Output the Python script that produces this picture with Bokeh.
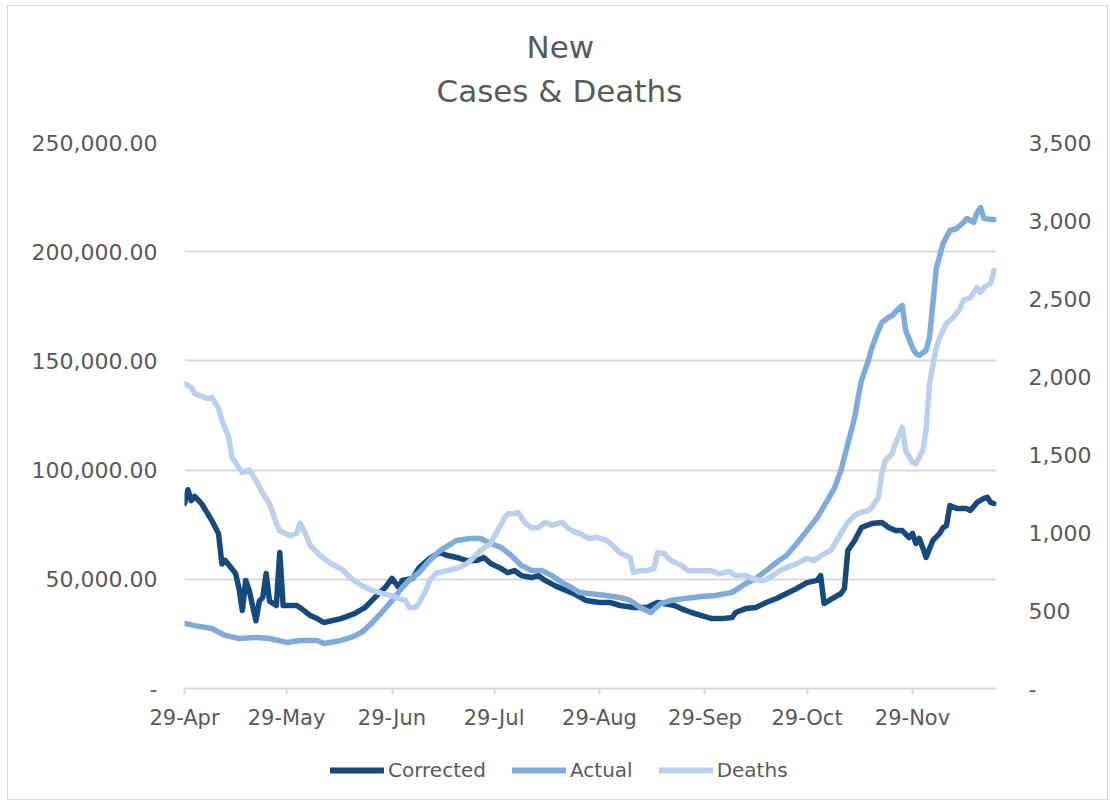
import pandas as pd
from bokeh.plotting import figure
from bokeh.layouts import column
from bokeh.models import (Range1d, LinearAxis, FixedTicker, DatetimeTickFormatter,
                          NumeralTickFormatter, Legend, LegendItem, Title)
from bokeh.embed import file_html
from bokeh.resources import INLINE

START = "2020-04-29"
END_DAY = 238.7

# ---- data (day offsets from 29-Apr) ----
corrected_day = [0, 1, 2, 3, 5, 8, 10, 11, 12, 15, 16, 17, 18, 19, 21, 22, 23, 24, 25, 27, 28, 29,
                 33, 34, 37, 39, 41, 46, 50, 53, 56, 59, 61, 63, 64, 67, 69, 72, 75, 77, 80, 83, 86,
                 88, 90, 93, 95, 97, 99, 102, 104, 106, 109, 112, 115, 118, 122, 125, 128, 132, 136,
                 139, 141, 144, 146, 149, 152, 155, 158, 161, 162, 165, 168, 171, 174, 177, 180, 183,
                 186, 187, 188, 190, 193, 194, 195, 197, 199, 202, 205, 207, 209, 211, 213, 214, 215,
                 216, 217, 218, 220, 222, 223, 224, 225, 227, 230, 231, 233, 235, 236, 237, 238]
corrected = [84700, 91000, 86000, 88000, 84700, 77000, 71000, 57000, 58600, 52700, 46000, 35700,
             49500, 45000, 31000, 40000, 41700, 52700, 40000, 38000, 62300, 38000, 38000, 37000,
             33400, 32000, 30200, 32000, 34300, 37000, 41700, 46200, 50400, 46200, 49500, 50400,
             55400, 59500, 62300, 61000, 60000, 58600, 58600, 60000, 57200, 55000, 53000, 54000,
             51700, 50800, 51700, 49500, 47000, 45000, 43000, 40300, 39400, 39400, 38000, 37100,
             37100, 39400, 38900, 38000, 36600, 34800, 33400, 32000, 32000, 32500, 34800, 36600,
             37100, 39400, 41200, 43500, 45800, 48500, 49500, 51700, 38900, 40800, 43500, 45800,
             63200, 67800, 73700, 75500, 76000, 73700, 72300, 72300, 69100, 71000, 66400, 68700,
             64600, 60000, 67800, 71000, 73700, 74600, 83800, 82400, 82400, 81500, 85200, 87000,
             87500, 85200, 84700]

actual_day = [0, 3, 8, 12, 16, 21, 25, 30, 34, 39, 41, 46, 49, 52, 55, 58, 61, 64, 66, 69, 72, 75,
              80, 84, 87, 90, 93, 96, 99, 102, 105, 108, 111, 114, 116, 119, 124, 128, 131, 134,
              137, 140, 143, 147, 152, 156, 161, 165, 168, 171, 174, 177, 180, 183, 186, 189, 191,
              193, 195, 197, 198, 199, 201, 202, 204, 205, 207, 208, 210, 211, 212, 214, 215, 216,
              218, 219, 220, 221, 223, 225, 227, 229, 230, 232, 233, 234, 235, 237, 238]
actual = [29800, 28800, 27500, 24300, 22900, 23400, 22900, 21100, 22000, 22000, 20600, 22000,
          23400, 25600, 29800, 34800, 40300, 46200, 49500, 53100, 58600, 63000, 67800, 68700,
          68700, 66400, 64600, 61000, 56300, 54000, 54000, 51700, 48500, 46000, 44000, 43500,
          42600, 41700, 40300, 37100, 34800, 38900, 40300, 41200, 42100, 42600, 44000, 48100,
          50400, 54000, 57700, 61000, 66400, 72300, 78300, 86100, 91600, 100000, 112000, 124000,
          133000, 141000, 150000, 155700, 164000, 167600, 170000, 170800, 174000, 175400, 164000,
          156000, 153400, 152500, 154800, 160700, 176300, 192300, 203800, 209700, 210600, 213400,
          215200, 213400, 218000, 220200, 215200, 214800, 214800]

deaths_day = [0, 2, 3, 6, 7, 8, 10, 11, 13, 14, 16, 17, 19, 21, 23, 25, 27, 28, 31, 33, 34, 36,
              37, 40, 43, 46, 49, 52, 55, 58, 61, 63, 65, 66, 68, 69, 71, 72, 74, 77, 80, 83, 85,
              87, 90, 92, 94, 95, 97, 98, 100, 102, 104, 106, 108, 111, 113, 115, 116, 119, 121,
              124, 126, 128, 131, 132, 134, 136, 138, 139, 141, 143, 146, 148, 152, 155, 157, 160,
              162, 165, 167, 170, 172, 175, 177, 180, 183, 185, 187, 190, 193, 195, 197, 199, 201,
              202, 204, 205, 206, 208, 209, 211, 212, 214, 215, 217, 218, 219, 221, 222, 224, 226,
              228, 229, 231, 233, 234, 235, 237, 238]
deaths = [1955, 1930, 1890, 1865, 1860, 1865, 1800, 1720, 1610, 1480, 1415, 1385, 1400, 1335,
          1250, 1185, 1060, 1010, 980, 995, 1060, 970, 915, 850, 800, 770, 705, 660, 630, 610,
          595, 575, 565, 520, 520, 550, 630, 690, 740, 755, 770, 800, 840, 885, 930, 1010, 1090,
          1120, 1120, 1130, 1065, 1030, 1030, 1065, 1045, 1065, 1025, 1000, 995, 960, 970, 950,
          915, 870, 840, 745, 755, 755, 770, 870, 865, 820, 790, 755, 755, 755, 735, 750, 725,
          725, 705, 690, 710, 755, 775, 800, 835, 820, 850, 885, 995, 1065, 1110, 1130, 1140,
          1160, 1225, 1380, 1460, 1505, 1570, 1675, 1525, 1450, 1440, 1525, 1655, 1955, 2185,
          2250, 2340, 2380, 2435, 2490, 2505, 2570, 2540, 2570, 2600, 2680]

tick_dates = ["2020-04-29", "2020-05-29", "2020-06-29", "2020-07-29",
              "2020-08-29", "2020-09-29", "2020-10-29", "2020-11-29"]
left_ticks = [0, 50000, 100000, 150000, 200000, 250000]
right_ticks = [0, 500, 1000, 1500, 2000, 2500, 3000, 3500]

series_names = ["Corrected", "Actual", "Deaths"]
colors = ["#174A7C", "#7FAADC", "#BCD0EE"]

FONT = "DejaVu Sans"
GREY = "#595959"
GRID = "#D9D9D9"
LW = 5.5


def to_dates(days):
    return pd.Timestamp(START) + pd.to_timedelta(days, unit="D")


start = pd.Timestamp(START)
p = figure(width=1099, height=740, x_axis_type="datetime",
           x_range=Range1d(start, start + pd.Timedelta(days=END_DAY)),
           y_range=Range1d(0, 250000),
           output_backend="svg", toolbar_location=None,
           min_border_left=176, min_border_right=111,
           min_border_top=136, min_border_bottom=58)
p.outline_line_color = None
p.extra_y_ranges = {"deaths": Range1d(0, 3500)}

# titles (stacked outward from the plot area: spacer, second line, first line)
p.add_layout(Title(text=" ", text_font_size="1px", standoff=26), "above")
p.add_layout(Title(text="Cases & Deaths", align="left", offset=252,
                   text_font=FONT, text_font_size="31px", text_font_style="normal",
                   text_color=GREY), "above")
p.add_layout(Title(text="New", align="left", offset=342, standoff=2,
                   text_font=FONT, text_font_size="31px", text_font_style="normal",
                   text_color=GREY), "above")

# x axis
xa = p.xaxis[0]
xa.ticker = FixedTicker(ticks=[pd.Timestamp(d).value // 10**6 for d in tick_dates])
xa.formatter = DatetimeTickFormatter(days="%d-%b", months="%d-%b", years="%d-%b",
                                     hours="%d-%b", minutes="%d-%b")
xa.axis_line_color = GRID
xa.axis_line_width = 2
xa.major_tick_line_color = GRID
xa.major_tick_line_width = 2
xa.major_tick_out = 6
xa.major_tick_in = 0
xa.minor_tick_line_color = None
xa.major_label_standoff = 11
xa.major_label_text_font = FONT
xa.major_label_text_font_size = "21px"
xa.major_label_text_color = GREY

# left axis
ya = p.yaxis[0]
ya.ticker = FixedTicker(ticks=left_ticks)
ya.formatter = NumeralTickFormatter(format="0,0.00")
ya.major_label_overrides = {0: "-"}
ya.axis_line_color = None
ya.major_tick_line_color = None
ya.minor_tick_line_color = None
ya.major_label_standoff = 21
ya.major_label_text_font = FONT
ya.major_label_text_font_size = "22px"
ya.major_label_text_color = GREY

# right axis
ra = LinearAxis(y_range_name="deaths", ticker=FixedTicker(ticks=right_ticks),
                formatter=NumeralTickFormatter(format="0,0"))
ra.major_label_overrides = {0: "-"}
ra.axis_line_color = None
ra.major_tick_line_color = None
ra.minor_tick_line_color = None
ra.major_label_standoff = 26
ra.major_label_text_font = FONT
ra.major_label_text_font_size = "22px"
ra.major_label_text_color = GREY
p.add_layout(ra, "right")

p.xgrid.grid_line_color = None
p.ygrid.ticker = FixedTicker(ticks=left_ticks[1:])
p.ygrid.grid_line_color = GRID
p.ygrid.grid_line_width = 2

p.line(to_dates(corrected_day), corrected, line_color=colors[0], line_width=LW,
       line_join="round", line_cap="round")
p.line(to_dates(actual_day), actual, line_color=colors[1], line_width=LW,
       line_join="round", line_cap="round")
p.line(to_dates(deaths_day), deaths, line_color=colors[2], line_width=LW,
       line_join="round", line_cap="round", y_range_name="deaths")

# legend strip below the chart (its plot area is aligned with the chart's)
q = figure(width=1099, height=53, x_range=Range1d(0, 1), y_range=Range1d(0, 1),
           output_backend="svg", toolbar_location=None,
           min_border_left=0, min_border_right=0, min_border_top=0, min_border_bottom=0)
q.axis.visible = False
q.grid.visible = False
q.outline_line_color = None
nan = float("nan")
legend_renderers = [q.line(x=[nan], y=[nan], line_color=c, line_width=6, line_cap="round")
                    for c in colors]
legend = Legend(items=[LegendItem(label=n, renderers=[r])
                       for n, r in zip(series_names, legend_renderers)],
                orientation="horizontal", location=(146, 17),
                glyph_width=54, glyph_height=20, label_height=20, label_standoff=4,
                spacing=26, padding=0, margin=0, border_line_color=None,
                background_fill_alpha=0, label_text_font=FONT, label_text_font_size="20px",
                label_text_color=GREY)
q.add_layout(legend)

layout = column(p, q, spacing=0,
                styles={"border": "1px solid #D9D9D9", "margin-left": "7px", "margin-top": "5px"})

open("out.html", "w").write(file_html(layout, INLINE))
